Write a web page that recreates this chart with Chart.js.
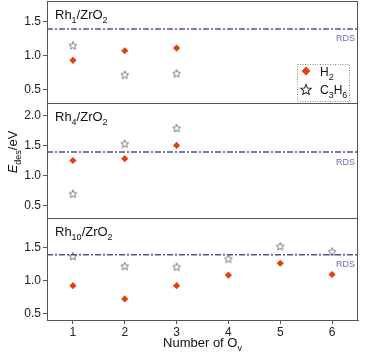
<!DOCTYPE html>
<html>
<head>
<meta charset="utf-8">
<script src="https://cdn.jsdelivr.net/npm/chart.js@4.4.1/dist/chart.umd.min.js"></script>
<style>
    html, body { margin: 0; padding: 0; background: #fff; overflow: hidden; }
    #wrap { position: relative; top: -4px; width: 373px; height: 363px; }
</style>
</head>
<body>
<div id="wrap"><canvas id="chart"></canvas></div>
<script>
// =====================================
// Data
// =====================================

const ovCounts = [1, 2, 3, 4, 5, 6];

const rh1H2 = [0.93, 1.07, 1.11];
const rh1C3H6 = [1.15, 0.72, 0.74];

const rh4H2 = [1.25, 1.28, 1.50];
const rh4C3H6 = [0.70, 1.53, 1.79];

const rh10H2 = [0.92, 0.72, 0.92, 1.08, 1.26, 1.09];
const rh10C3H6 = [1.37, 1.22, 1.21, 1.33, 1.52, 1.44];

const rdsLevel = 1.39;

const ticksRh1 = [0.5, 0.75, 1.0, 1.25, 1.5, 1.75];
const ticksRh4 = [0.5, 0.75, 1.0, 1.25, 1.5, 1.75, 2.0];
const ticksRh10 = [0.5, 0.75, 1.0, 1.25, 1.5, 1.75];

const panelLabels = [["Rh", "1"], ["Rh", "4"], ["Rh", "10"]];
const seriesNames = [["H", "2"], ["C", "3", "H", "6"]];

// =====================================
// Helpers
// =====================================

const FONT = "'Liberation Sans', Arial, sans-serif";
const H2_COLOR = "#e4400f";
const STAR_COLOR = "#7d7d7d";
const FRAME = "#555";
const RDS_COLOR = "#594a9c";
const SHIFT = 4; // canvas is moved up by this much

function pairs(values) {
    return values.map((v, i) => ({ x: ovCounts[i], y: v }));
}

function starPath(ctx, cx, cy, r) {
    ctx.beginPath();
    for (let i = 0; i < 10; i++) {
        const rad = i % 2 === 0 ? r : r * 0.45;
        const a = -Math.PI / 2 + i * Math.PI / 5;
        const px = cx + Math.cos(a) * rad;
        const py = cy + Math.sin(a) * rad;
        if (i === 0) ctx.moveTo(px, py); else ctx.lineTo(px, py);
    }
    ctx.closePath();
}

function makeStar(r, color, width) {
    const c = document.createElement("canvas");
    const size = Math.ceil(r * 2 + 3);
    c.width = size;
    c.height = size;
    const g = c.getContext("2d");
    starPath(g, size / 2, size / 2 + 0.5, r);
    g.strokeStyle = color;
    g.lineWidth = width;
    g.lineJoin = "miter";
    g.stroke();
    return c;
}

const starMarker = makeStar(4.2, STAR_COLOR, 1);

// parts: [text, sub?, italic?]  -- draws text with subscripts
function drawParts(ctx, parts, x, y, size, align) {
    let total = 0;
    const fonts = parts.map(p => {
        const f = (p[2] ? "italic " : "") + (p[1] ? Math.round(size * 0.72) : size) + "px " + FONT;
        ctx.font = f;
        total += ctx.measureText(p[0]).width;
        return f;
    });
    let cx = align === "center" ? x - total / 2 : x;
    ctx.textAlign = "left";
    ctx.textBaseline = "alphabetic";
    parts.forEach((p, i) => {
        ctx.font = fonts[i];
        ctx.fillText(p[0], cx, p[1] ? y + size * 0.3 : y);
        cx += ctx.measureText(p[0]).width;
    });
}

function chemParts(arr) {
    const out = [];
    for (let i = 0; i < arr.length; i += 2) {
        out.push([arr[i], false]);
        out.push([arr[i + 1], true]);
    }
    return out;
}

function yScale(min, max, ticks, weight) {
    return {
        type: "linear",
        position: "left",
        stack: "panels",
        stackWeight: weight,
        min: min,
        max: max,
        afterBuildTicks: s => { s.ticks = ticks.map(v => ({ value: v })); },
        afterFit: s => {
            s.width = 47;
            s.paddingTop = 0;
            s.paddingBottom = 0;
        },
        ticks: {
            color: "#222",
            padding: 2,
            font: { family: FONT, size: 12 },
            callback: v => (Math.abs(v * 2 - Math.round(v * 2)) < 1e-6 ? v.toFixed(1) : "")
        },
        grid: { drawOnChartArea: false, drawTicks: true, tickLength: 4, tickColor: FRAME },
        border: { display: true, color: FRAME }
    };
}

function h2Set(values, axis) {
    return {
        data: pairs(values), yAxisID: axis,
        pointStyle: "rectRot", pointRadius: 3.6,
        backgroundColor: H2_COLOR, borderColor: H2_COLOR, borderWidth: 0
    };
}

function starSet(values, axis) {
    return {
        data: pairs(values), yAxisID: axis,
        pointStyle: starMarker, pointRadius: 4
    };
}

function rdsSet(axis) {
    return {
        type: "line", yAxisID: axis,
        data: [{ x: 0.5, y: rdsLevel }, { x: 6.5, y: rdsLevel }],
        borderColor: RDS_COLOR, borderWidth: 1.5, borderDash: [6, 2, 2, 2],
        pointRadius: 0
    };
}

// =====================================
// Decorations
// =====================================

const decorations = {
    id: "decorations",
    afterDraw(chart) {
        const ctx = chart.ctx;
        const area = chart.chartArea;
        const axes = ["y1", "y2", "y3"];

        ctx.save();

        // frames
        ctx.strokeStyle = FRAME;
        ctx.lineWidth = 1;
        axes.forEach(id => {
            const s = chart.scales[id];
            ctx.strokeRect(area.left + 0.5, Math.round(s.top) + 0.5,
                area.right - area.left - 1, Math.round(s.bottom) - Math.round(s.top));
        });

        // panel labels and RDS labels
        axes.forEach((id, i) => {
            const s = chart.scales[id];
            ctx.fillStyle = "#111";
            drawParts(ctx, [[panelLabels[i][0], false], [panelLabels[i][1], true],
                ["/ZrO", false], ["2", true]], area.left + 8, s.top + 18, 13);

            ctx.fillStyle = "#7a66b4";
            ctx.font = "9px " + FONT;
            ctx.textAlign = "right";
            ctx.textBaseline = "middle";
            ctx.fillText("RDS", area.right - 3, s.getPixelForValue(rdsLevel) + 10);
        });

        // legend (page coordinates + SHIFT)
        const lx = 297.5, ly = 64.5 + SHIFT, lw = 52, lh = 37;
        ctx.setLineDash([1, 1.5]);
        ctx.strokeStyle = "#888";
        ctx.strokeRect(lx, ly, lw, lh);
        ctx.setLineDash([]);

        const dy = 71 + SHIFT;
        ctx.fillStyle = H2_COLOR;
        ctx.beginPath();
        ctx.moveTo(306, dy - 4.5);
        ctx.lineTo(310.5, dy);
        ctx.lineTo(306, dy + 4.5);
        ctx.lineTo(301.5, dy);
        ctx.closePath();
        ctx.fill();

        starPath(ctx, 306, 90 + SHIFT, 5.5);
        ctx.strokeStyle = "#333";
        ctx.lineWidth = 1.1;
        ctx.stroke();

        ctx.fillStyle = "#111";
        drawParts(ctx, chemParts(seriesNames[0]), 320, 76 + SHIFT, 12);
        drawParts(ctx, chemParts(seriesNames[1]), 320, 94 + SHIFT, 12);

        // axis titles
        ctx.fillStyle = "#111";
        drawParts(ctx, [["Number of O", false], ["v", true]],
            (area.left + area.right) / 2, 347 + SHIFT, 13, "center");

        ctx.translate(17, 152 + SHIFT);
        ctx.rotate(-Math.PI / 2);
        drawParts(ctx, [["E", false, true], ["des", true], ["/eV", false]], 0, 0, 13, "center");

        ctx.restore();
    }
};

// =====================================
// Chart
// =====================================

new Chart(document.getElementById("chart"), {
    type: "scatter",
    data: {
        datasets: [
            rdsSet("y1"), rdsSet("y2"), rdsSet("y3"),
            h2Set(rh1H2, "y1"), starSet(rh1C3H6, "y1"),
            h2Set(rh4H2, "y2"), starSet(rh4C3H6, "y2"),
            h2Set(rh10H2, "y3"), starSet(rh10C3H6, "y3")
        ]
    },
    options: {
        responsive: true,
        maintainAspectRatio: false,
        animation: false,
        layout: { padding: { top: 0, right: 15, left: 0, bottom: 0 } },
        plugins: {
            legend: { display: false },
            tooltip: { enabled: false }
        },
        scales: {
            x: {
                type: "linear",
                position: "bottom",
                min: 0.5,
                max: 6.5,
                afterBuildTicks: s => { s.ticks = ovCounts.map(v => ({ value: v })); },
                afterFit: s => {
                    s.height = 39;
                    s.paddingLeft = 0;
                    s.paddingRight = 0;
                },
                ticks: { color: "#222", padding: 1, font: { family: FONT, size: 12 } },
                grid: { drawOnChartArea: false, drawTicks: true, tickLength: 4, tickColor: FRAME },
                border: { display: true, color: FRAME }
            },
            // stacked panels are laid out bottom-up
            y3: yScale(0.4, 1.95, ticksRh10, 1),
            y2: yScale(0.3, 2.2, ticksRh4, 1.12),
            y1: yScale(0.3, 1.8, ticksRh1, 1)
        }
    },
    plugins: [decorations]
});
</script>
</body>
</html>
